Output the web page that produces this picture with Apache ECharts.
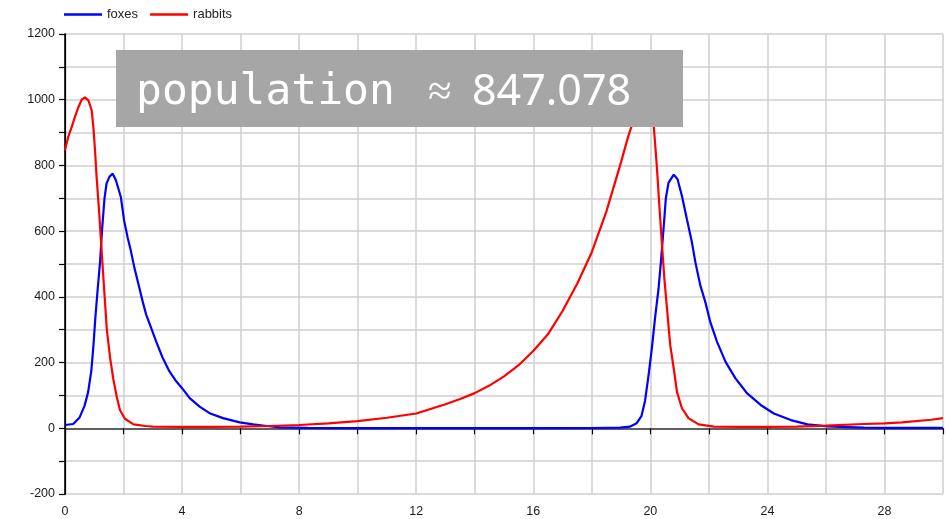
<!DOCTYPE html>
<html>
<head>
<meta charset="utf-8">
<title>foxes and rabbits</title>
<script src="https://cdn.jsdelivr.net/npm/echarts@6/dist/echarts.min.js"></script>
<style>
	html, body { margin: 0; padding: 0; background: #fff; }
	#chart { width: 946px; height: 519px; }
</style>
</head>
<body>
<div id="chart"></div>
<script>
// values (time, population)
var foxTime = [0, 0.28, 0.5, 0.67, 0.79, 0.9, 0.97, 1.04, 1.12, 1.2, 1.27, 1.35, 1.42, 1.52, 1.63, 1.74, 1.91, 2.02,
	2.14, 2.25, 2.37, 2.54, 2.65, 2.77, 2.94, 3.11, 3.34, 3.57, 3.8, 4.0, 4.26, 4.6, 4.94, 5.4, 5.97, 6.43, 6.89,
	7.35, 8.3, 10, 12, 14, 16,
	18, 18.96, 19.3, 19.53, 19.7, 19.82, 19.94, 20.05, 20.17, 20.28, 20.36, 20.45, 20.53, 20.62, 20.8, 20.93, 21.08,
	21.25, 21.42, 21.54, 21.71, 21.88, 22.05, 22.28, 22.57, 22.91, 23.31, 23.77, 24.22, 24.8, 25.37, 26.05, 26.5,
	27.3, 28, 30];
var foxValues = [10, 13, 33, 69, 110, 175, 250, 340, 427, 508, 609, 700, 745, 766, 775, 755, 703, 632,
	581, 540, 489, 428, 387, 347, 306, 265, 214, 173, 143, 122, 92, 66, 46, 31, 18, 12, 7,
	3, 1, 0.5, 0.5, 0.5, 0.5,
	0.8, 2, 5, 15, 38, 84, 162, 242, 343, 424, 505, 606, 700, 747, 772, 758, 707,
	636, 566, 505, 434, 384, 323, 263, 202, 152, 106, 71, 45, 25, 12, 6, 4,
	2, 1, 1];

var rabbitTime = [0, 0.11, 0.23, 0.34, 0.46, 0.57, 0.68, 0.8, 0.91, 0.97, 1.03, 1.08, 1.17, 1.25, 1.34, 1.43, 1.54,
	1.65, 1.77, 1.88, 2.05, 2.34, 2.75, 3.0, 4, 5, 6, 7, 8, 9, 10, 11, 12, 13, 13.5, 14, 14.5, 15, 15.5, 16,
	16.5, 17, 17.5, 18, 18.5, 19, 19.25, 19.38, 19.49, 19.61, 19.72, 19.83,
	19.95, 20.06, 20.12, 20.22, 20.31, 20.4, 20.48, 20.57, 20.68, 20.8, 20.91, 21.08, 21.31, 21.65, 22.17, 23.08,
	24, 25, 26, 27.3, 28, 28.6, 29.6, 30];
var rabbitValues = [846, 887, 917, 948, 978, 1000, 1007, 998, 968, 917, 840, 765, 654, 542, 420, 300, 215,
	150, 95, 55, 29, 12, 7, 5, 4, 4, 5, 7, 10, 15, 22, 32, 45, 73, 89, 107, 130, 158, 192, 235,
	286, 357, 440, 536, 660, 810, 890, 925, 955, 982, 1000, 1007,
	998, 968, 917, 800, 675, 556, 455, 364, 253, 182, 111, 61, 30, 12, 5, 4,
	4, 5, 8, 13, 15, 18, 26, 31];

var seriesNames = ['foxes', 'rabbits'];
var seriesColors = ['#0000ff', '#ff0000'];
var noteLabel = 'population', noteValue = '847.078';

function pairs(ts, vs) {
	var out = [];
	for (var i = 0; i < ts.length; i++)
		out.push([ts[i], vs[i]]);
	return out;
}

var myChart = echarts.init(document.getElementById('chart'));
var labelFont = { fontFamily: 'Liberation Sans', fontSize: 12.5, color: '#1a1a1a' };
var gridLine = { show: true, lineStyle: { color: '#cfcfcf', width: 1.5 } };

var option = {
	animation: false,
	legend: {
		left: 64, top: 8, padding: 0,
		icon: 'rect', itemWidth: 38, itemHeight: 2.5, itemGap: 12,
		textStyle: { fontFamily: 'Liberation Sans', fontSize: 13, color: '#222' },
		data: seriesNames
	},
	grid: { left: 65, right: 3, top: 34, bottom: 25 },
	xAxis: [{
		type: 'value', min: 0, max: 30, interval: 2,
		axisLine: { lineStyle: { color: '#000', width: 1.5 } },
		axisTick: { show: true, length: 6, lineStyle: { color: '#000', width: 1.2 } },
		axisLabel: Object.assign({
			margin: 11,
			formatter: function (v) { return v % 4 === 0 ? String(v) : ''; }
		}, labelFont),
		splitLine: gridLine
	}, {
		type: 'value', position: 'top', min: 0, max: 30, interval: 2,
		axisLine: { show: true, lineStyle: { color: '#5f5f5f', width: 2 } },
		axisTick: { show: false }, axisLabel: { show: false }, splitLine: { show: false }
	}],
	yAxis: [{
		type: 'value', min: -200, max: 1200, interval: 100,
		axisLine: { show: true, lineStyle: { color: '#000', width: 1.5 } },
		axisTick: { show: true, length: 6, lineStyle: { color: '#000', width: 1.2 } },
		axisLabel: Object.assign({
			margin: 10,
			formatter: function (v) { return v % 200 === 0 ? String(v) : ''; }
		}, labelFont),
		splitLine: gridLine
	}, {
		type: 'value', position: 'right', min: -200, max: 1200, interval: 100,
		axisLine: { show: true, lineStyle: { color: '#000', width: 1.2 } },
		axisTick: { show: false }, axisLabel: { show: false }, splitLine: { show: false }
	}],
	series: [{
		name: seriesNames[0], type: 'line', showSymbol: false, symbol: 'none',
		color: seriesColors[0], lineStyle: { width: 2.2 },
		data: pairs(foxTime, foxValues)
	}, {
		name: seriesNames[1], type: 'line', showSymbol: false, symbol: 'none',
		color: seriesColors[1], lineStyle: { width: 2.2 },
		data: pairs(rabbitTime, rabbitValues)
	}],
	// the grey note box sits over the plot
	graphic: [
		{ type: 'rect', z: 100, shape: { x: 116, y: 50, width: 567, height: 77 }, style: { fill: '#a6a6a6' } },
		{ type: 'text', z: 101, x: 136, y: 93, style: { text: noteLabel, fill: '#fff',
			font: '43px "DejaVu Sans Mono"', verticalAlign: 'middle' } },
		{ type: 'text', z: 101, x: 428, y: 93, style: { text: '\u2248', fill: '#fff',
			font: '43px "Noto Sans"', verticalAlign: 'middle' } },
		{ type: 'text', z: 101, x: 472, y: 93, style: { text: noteValue, fill: '#fff',
			font: '43px "Noto Sans"', verticalAlign: 'middle' } }
	]
};

myChart.setOption(option);
</script>
</body>
</html>
